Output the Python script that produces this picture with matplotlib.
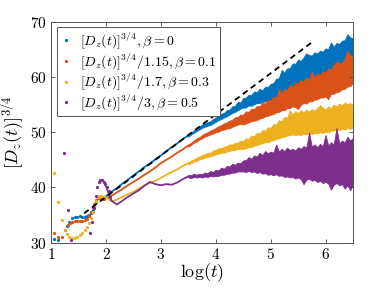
import numpy as np
import matplotlib
matplotlib.use("Agg")
import matplotlib.pyplot as plt

plt.rcParams["mathtext.fontset"] = "cm"
plt.rcParams["font.family"] = "serif"

# early times: isolated points
blue_x_early = [1.05, 1.12, 1.26, 1.29, 1.33, 1.38, 1.43, 1.48, 1.52, 1.56, 1.61, 1.65, 1.69, 1.73,
                1.76, 1.79, 1.82, 1.85, 1.88, 1.91, 1.94, 1.97]
blue_y_early = [30.6, 30.5, 32.3, 33.0, 33.8, 34.5, 34.7, 34.7, 34.8, 34.7, 34.7, 34.8, 35.0, 35.4,
                35.9, 36.6, 37.4, 38.0, 38.3, 38.1, 38.0, 38.2]
red_x_early = [1.05, 1.12, 1.19, 1.26, 1.30, 1.34, 1.38, 1.43, 1.48, 1.52, 1.56, 1.61, 1.65, 1.69,
               1.73, 1.76, 1.79, 1.82, 1.85, 1.88, 1.91, 1.94, 1.97]
red_y_early = [31.8, 31.0, 31.0, 32.3, 33.2, 33.6, 33.8, 33.9, 33.9, 34.0, 34.0, 34.1, 34.3, 34.8,
               35.5, 36.4, 37.0, 37.8, 38.0, 38.2, 38.0, 37.9, 37.9]
yellow_x_early = [1.05, 1.12, 1.19, 1.26, 1.29, 1.33, 1.38, 1.43, 1.48, 1.53, 1.57, 1.61, 1.65, 1.69,
                  1.72, 1.76, 1.79, 1.82, 1.85, 1.88, 1.91, 1.94, 1.97]
yellow_y_early = [42.7, 37.4, 34.1, 32.3, 31.6, 31.0, 30.8, 30.8, 31.0, 31.3, 31.7, 32.2, 32.8, 33.6,
                  34.5, 35.5, 36.6, 37.6, 38.2, 38.4, 38.4, 38.3, 38.3]
purple_x_early = [1.24, 1.30, 1.36, 1.70, 1.74, 1.78, 1.81, 1.84, 1.87, 1.90, 1.93, 1.96, 1.99,
                  2.02, 2.05, 2.08]
purple_y_early = [46.2, 36.0, 30.5, 31.8, 33.8, 36.2, 38.4, 40.0, 40.9, 41.3, 41.3, 41.0, 40.6,
                  40.0, 39.3, 38.3]

# intermediate times: smooth curves
log_t_mid = [2.0, 2.1, 2.2, 2.3, 2.4, 2.5, 2.6, 2.7, 2.8, 2.9, 3.0, 3.1, 3.2, 3.3, 3.4, 3.5]
blue_mid = [38.4, 39.2, 39.9, 40.7, 41.4, 42.2, 42.9, 43.7, 44.3, 45.1, 45.8, 46.6, 47.3, 48.0, 48.8, 49.4]
red_mid = [38.0, 38.5, 39.1, 39.7, 40.4, 41.0, 41.6, 42.3, 42.9, 43.6, 44.4, 45.0, 45.6, 46.3, 46.9, 47.6]
yellow_mid = [38.2, 37.5, 37.8, 38.3, 38.8, 39.2, 39.8, 40.4, 40.8, 41.2, 41.7, 42.3, 42.8, 43.3, 43.9, 44.4]
purple_mid = [40.2, 37.6, 36.9, 37.6, 38.3, 38.9, 39.5, 40.3, 41.0, 40.6, 40.4, 40.6, 40.5, 40.9, 41.5, 42.0]

# late times: noisy band, upper / lower envelopes
log_t_late = [3.50, 3.55, 3.60, 3.65, 3.70, 3.75, 3.80, 3.85, 3.90, 3.95,
              4.00, 4.05, 4.10, 4.15, 4.20, 4.25, 4.30, 4.35, 4.40, 4.45,
              4.50, 4.55, 4.60, 4.65, 4.70, 4.75, 4.80, 4.85, 4.90, 4.95,
              5.00, 5.05, 5.10, 5.15, 5.20, 5.25, 5.30, 5.35, 5.40, 5.45,
              5.50, 5.55, 5.60, 5.65, 5.70, 5.75, 5.80, 5.85, 5.90, 5.95,
              6.00, 6.05, 6.10, 6.15, 6.20, 6.25, 6.30, 6.35, 6.40, 6.45, 6.50]
blue_hi = [49.6, 50.0, 50.3, 50.7, 51.0, 51.4, 51.6, 51.8, 52.0, 52.4,
           52.7, 52.9, 53.4, 53.5, 54.0, 54.1, 54.7, 54.8, 55.5, 55.4,
           56.2, 56.3, 56.8, 56.8, 57.4, 57.3, 57.9, 57.6, 58.3, 58.2,
           58.8, 58.9, 59.7, 59.8, 61.3, 60.8, 61.6, 61.6, 62.5, 62.4,
           63.2, 62.9, 63.6, 64.3, 64.0, 63.9, 64.5, 64.3, 64.8, 64.6,
           65.2, 65.1, 66.3, 65.5, 66.2, 66.0, 66.6, 66.7, 67.8, 67.2, 67.0]
blue_lo = [49.2, 49.6, 49.9, 50.2, 50.5, 50.8, 51.0, 51.2, 51.3, 51.6,
           51.9, 52.2, 52.4, 52.7, 52.9, 53.2, 53.5, 53.7, 54.0, 54.3,
           54.5, 54.5, 54.9, 54.8, 55.1, 55.3, 55.3, 55.5, 55.6, 55.6,
           55.9, 55.9, 56.4, 56.5, 57.0, 57.1, 57.6, 57.5, 57.9, 57.4,
           58.4, 58.4, 58.8, 59.0, 59.1, 59.5, 59.6, 59.9, 59.5, 60.3,
           60.6, 60.8, 61.1, 61.3, 61.8, 62.0, 61.8, 62.6, 62.9, 63.2, 63.5]
red_hi = [47.8, 48.1, 48.5, 48.9, 49.1, 49.5, 49.8, 50.0, 50.3, 50.5,
          50.8, 51.1, 51.3, 51.6, 51.8, 52.1, 52.3, 52.7, 52.8, 53.2,
          53.2, 53.8, 53.7, 54.3, 54.2, 54.8, 54.7, 55.4, 55.2, 55.9,
          55.7, 56.5, 56.3, 57.8, 57.0, 57.9, 57.6, 58.6, 58.3, 59.0,
          58.9, 59.5, 59.2, 59.9, 59.6, 61.0, 60.0, 60.6, 60.4, 61.1,
          60.8, 61.6, 61.4, 62.3, 62.8, 62.7, 62.5, 63.4, 64.8, 64.0, 63.6]
red_lo = [47.4, 47.7, 48.1, 48.3, 48.7, 48.9, 49.2, 49.4, 49.6, 49.8,
          50.0, 50.1, 50.4, 50.5, 50.7, 50.7, 51.0, 51.2, 51.4, 51.5,
          51.4, 51.6, 51.8, 52.0, 52.1, 52.2, 52.5, 52.6, 52.9, 53.0,
          53.2, 53.3, 53.6, 53.7, 54.0, 54.0, 54.4, 54.4, 54.7, 54.6,
          54.2, 55.0, 55.3, 55.2, 55.6, 55.6, 55.9, 56.0, 56.3, 56.3,
          56.5, 56.0, 57.0, 57.0, 57.3, 57.4, 57.8, 57.9, 58.3, 58.4, 58.9]
yellow_hi = [44.6, 44.9, 45.1, 45.4, 45.6, 45.9, 46.0, 46.3, 46.3, 46.7,
             46.8, 47.1, 47.1, 47.4, 47.5, 47.8, 47.8, 48.1, 48.1, 48.5,
             48.4, 48.9, 48.8, 49.4, 49.3, 49.9, 49.8, 50.4, 50.3, 50.9,
             50.8, 51.5, 51.4, 52.2, 52.0, 52.8, 52.6, 54.0, 53.2, 53.8,
             53.5, 54.0, 53.6, 54.1, 53.8, 54.2, 53.9, 54.4, 54.9, 54.5,
             54.1, 54.7, 54.4, 55.0, 54.7, 55.2, 54.9, 55.4, 55.1, 55.3, 55.0]
yellow_lo = [44.2, 44.4, 44.7, 44.8, 45.1, 45.2, 45.4, 45.5, 45.7, 45.8,
             46.0, 46.1, 46.3, 46.3, 46.5, 46.6, 46.8, 46.8, 47.0, 47.0,
             47.0, 47.1, 47.3, 47.3, 47.6, 47.7, 47.9, 48.0, 48.2, 48.2,
             48.4, 48.6, 48.8, 48.9, 49.1, 49.2, 49.4, 49.5, 49.6, 49.5,
             49.6, 49.5, 49.7, 49.6, 49.8, 49.7, 49.9, 49.8, 50.0, 49.9,
             50.1, 50.0, 50.3, 50.3, 50.5, 50.4, 50.6, 50.5, 50.8, 50.6, 50.9]
purple_hi = [42.3, 42.2, 42.5, 42.3, 42.5, 42.4, 42.7, 42.6, 43.0, 42.8,
             43.2, 43.1, 43.6, 43.4, 43.9, 43.8, 44.3, 44.1, 44.5, 44.4,
             44.9, 45.0, 45.5, 45.2, 45.8, 45.6, 46.3, 45.9, 46.6, 46.2,
             46.5, 46.3, 47.8, 46.5, 47.0, 46.6, 47.2, 46.8, 47.0, 46.7,
             47.3, 47.0, 47.5, 47.2, 50.0, 47.4, 47.8, 47.3, 47.9, 47.5,
             49.5, 47.6, 48.2, 47.8, 50.8, 48.0, 48.5, 48.2, 49.2, 48.5, 49.0]
purple_lo = [41.8, 41.7, 41.9, 41.8, 41.9, 41.8, 42.0, 41.9, 42.1, 42.0,
             42.1, 42.1, 42.3, 42.3, 42.5, 42.5, 42.7, 42.7, 42.9, 42.9,
             42.9, 42.8, 43.0, 42.8, 42.9, 42.6, 42.8, 42.5, 42.6, 42.3,
             42.4, 42.2, 42.4, 42.1, 42.2, 41.9, 42.0, 41.8, 41.9, 41.6,
             41.8, 41.5, 40.6, 41.4, 41.6, 41.2, 41.4, 41.0, 41.2, 40.8,
             41.0, 40.7, 39.6, 40.5, 40.8, 40.4, 40.6, 39.8, 40.4, 39.5, 40.5]

fit_x = [1.6, 5.75]
fit_y = [35.3, 66.3]

labels = [r"$[D_z(t)]^{3/4}, \beta = 0$",
          r"$[D_z(t)]^{3/4}/1.15, \beta = 0.1$",
          r"$[D_z(t)]^{3/4}/1.7, \beta = 0.3$",
          r"$[D_z(t)]^{3/4}/3, \beta = 0.5$"]
colors = ["#0072BD", "#D95319", "#EDB120", "#7E2F8E"]

fig = plt.figure(figsize=(3.9, 2.93), dpi=100)
ax = fig.add_axes([0.131, 0.172, 0.774, 0.753])

early = [(blue_x_early, blue_y_early), (red_x_early, red_y_early),
         (yellow_x_early, yellow_y_early), (purple_x_early, purple_y_early)]
mid = [blue_mid, red_mid, yellow_mid, purple_mid]
bands = [(blue_lo, blue_hi), (red_lo, red_hi), (yellow_lo, yellow_hi), (purple_lo, purple_hi)]
for i in range(4):
    ax.plot(early[i][0], early[i][1], ".", ms=2.6, color=colors[i], label=labels[i])
    ax.plot(log_t_mid, mid[i], "-", lw=1.3, color=colors[i])
    ax.fill_between(log_t_late, bands[i][0], bands[i][1], color=colors[i], lw=0.6,
                    edgecolor=colors[i])

ax.plot(fit_x, fit_y, color="black", lw=1.3, dashes=(3.2, 2.3))

ax.set_xlim(1, 6.5)
ax.set_ylim(30, 70)
ax.set_xticks([1, 2, 3, 4, 5, 6], labels=["$%d$" % v for v in [1, 2, 3, 4, 5, 6]])
ax.set_yticks([30, 40, 50, 60, 70], labels=["$%d$" % v for v in [30, 40, 50, 60, 70]])
ax.tick_params(direction="in", top=True, right=True, length=3, width=0.6,
               color="#444444", labelsize=11, pad=3)
for s in ax.spines.values():
    s.set_color("#555555")
    s.set_linewidth(0.7)

ax.set_xlabel(r"$\log(t)$", fontsize=13, labelpad=0)
ax.set_ylabel(r"$[D_z(t)]^{3/4}$", fontsize=13, labelpad=2)

leg = ax.legend(loc="upper left", bbox_to_anchor=(0.02, 0.977), fontsize=10,
                markerscale=1.0, handlelength=0.8, handletextpad=0.6, borderpad=0.25,
                labelspacing=0.0, borderaxespad=0, fancybox=False, framealpha=1)
leg.get_frame().set_edgecolor("#555555")
leg.get_frame().set_linewidth(0.7)

fig.savefig("out.png", dpi=100)
